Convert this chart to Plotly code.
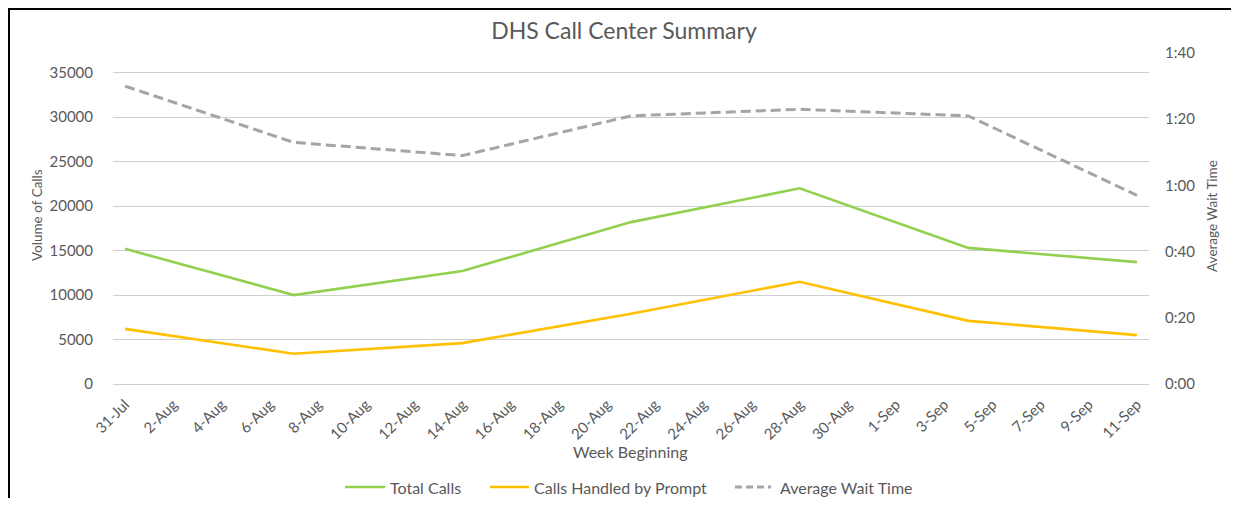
import plotly.graph_objects as go

# ---- data ----
weeks = ["2017-07-31", "2017-08-07", "2017-08-14", "2017-08-21",
         "2017-08-28", "2017-09-04", "2017-09-11"]
total_calls = [15200, 10000, 12700, 18200, 22000, 15300, 13700]
calls_prompt = [6200, 3400, 4600, 7900, 11500, 7100, 5500]
wait_seconds = [90, 73, 69, 81, 83, 81, 57]  # average wait time (m:ss) in seconds

left_ticks = [0, 5000, 10000, 15000, 20000, 25000, 30000, 35000]
right_ticks = [0, 20, 40, 60, 80, 100]
right_labels = ["0:00", "0:20", "0:40", "1:00", "1:20", "1:40"]

series_names = ["Total Calls", "Calls Handled by Prompt", "Average Wait Time"]
series_colors = ["#92D050", "#FFC000", "#A5A5A5"]

# page geometry (page pixels); the html body adds an 8px margin on every side
OFF = 8
PW, PH = 1239, 506
W, H = PW - 2 * OFF, PH - 2 * OFF
L, R, T, B = 113, 1149, 53, 384
pw, ph = R - L, B - T


def px(x):
    return (x - L) / pw


def py(y):
    return (B - y) / ph


FONT = "Lato, 'Open Sans', sans-serif"
GREY = "#595959"

fig = go.Figure()
fig.add_trace(go.Scatter(x=weeks, y=total_calls, name=series_names[0], mode="lines",
                         line=dict(color=series_colors[0], width=2.6)))
fig.add_trace(go.Scatter(x=weeks, y=calls_prompt, name=series_names[1], mode="lines",
                         line=dict(color=series_colors[1], width=2.6)))
fig.add_trace(go.Scatter(x=weeks, y=wait_seconds, name=series_names[2], mode="lines",
                         line=dict(color=series_colors[2], width=3, dash="10px,5px"), yaxis="y2"))

fig.update_layout(
    width=W, height=H,
    margin=dict(l=L - OFF, r=(OFF + W) - R, t=T - OFF, b=(OFF + H) - B, autoexpand=False),
    paper_bgcolor="white", plot_bgcolor="white",
    font=dict(family=FONT, color=GREY, size=12),
    title=dict(text="DHS Call Center Summary", x=(624 - OFF) / W, xref="container", xanchor="center",
               y=1 - (31 - OFF) / H, yref="container", yanchor="middle",
               font=dict(size=23, color=GREY, family=FONT)),
    xaxis=dict(type="date", range=["2017-07-30 12:00", "2017-09-11 12:00"],
               tick0="2017-07-31", dtick=2 * 86400000, tickformat="%-d-%b",
               tickangle=-45, showgrid=False, zeroline=False, showline=False,
               ticks="outside", ticklen=5, tickcolor="rgba(0,0,0,0)",
               tickfont=dict(size=15, color=GREY)),
    yaxis=dict(range=[0, 35000 * ph / (B - 72.7)], tickvals=left_ticks, tickformat="d",
               showgrid=True, gridcolor="#CFCFCF", gridwidth=1,
               zeroline=True, zerolinecolor="#CFCFCF", zerolinewidth=1,
               showline=False, ticks="outside", ticklen=16, tickcolor="rgba(0,0,0,0)",
               tickfont=dict(size=15, color=GREY)),
    yaxis2=dict(range=[0, 100], overlaying="y", side="right", tickvals=right_ticks,
                ticktext=right_labels, showgrid=False, zeroline=False, showline=False,
                ticks="outside", ticklen=12, tickcolor="rgba(0,0,0,0)",
                tickfont=dict(size=15, color=GREY)),
    showlegend=False,
)

fig.add_annotation(text="Volume of Calls", x=px(37), y=py(215), xref="paper", yref="paper",
                   textangle=-90, showarrow=False, font=dict(size=13.5, color=GREY),
                   xanchor="center", yanchor="middle")
fig.add_annotation(text="Average Wait Time", x=px(1212), y=py(216), xref="paper", yref="paper",
                   textangle=-90, showarrow=False, font=dict(size=13.5, color=GREY),
                   xanchor="center", yanchor="middle")
fig.add_annotation(text="Week Beginning", x=px(630), y=py(451), xref="paper", yref="paper",
                   showarrow=False, font=dict(size=16, color=GREY),
                   xanchor="center", yanchor="middle")

# legend drawn by hand (line sample + label) to match the Excel layout
leg_y = 487
leg_items = [(345, 385, 388), (490, 529, 532), (735, 771, 778)]
for (x0, x1, xt), name, color, dash in zip(leg_items, series_names, series_colors,
                                           ["solid", "solid", "7px,4px"]):
    fig.add_shape(type="line", xref="paper", yref="paper", x0=px(x0), x1=px(x1),
                  y0=py(leg_y), y1=py(leg_y),
                  line=dict(color=color, width=3 if dash != "solid" else 2.6, dash=dash))
    fig.add_annotation(text=name, x=px(xt), y=py(leg_y), xref="paper", yref="paper",
                       showarrow=False, xanchor="left", yanchor="middle",
                       font=dict(size=16, color=GREY))

# frame (top and left edges visible in the reference)
FX, FY = 9, 9
fig.add_shape(type="line", xref="paper", yref="paper", x0=px(FX - 1), x1=px(PW + 5), y0=py(FY), y1=py(FY),
              line=dict(color="black", width=2))
fig.add_shape(type="line", xref="paper", yref="paper", x0=px(FX), x1=px(FX), y0=py(FY - 1), y1=py(PH + 5),
              line=dict(color="black", width=2))

fig.write_html("out.html")
